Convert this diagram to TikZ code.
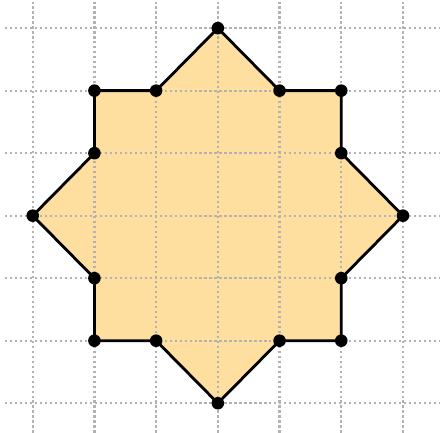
\documentclass[tikz,border=0pt]{standalone}
\usepackage{tikz}

\definecolor{starfill}{RGB}{255,223,160}

\tikzset{
  gridline/.style={gray!60, line width=1pt, dash pattern=on 1pt off 1.3pt},
  outline/.style={line width=1.3pt, line join=round},
  vertex/.style={circle, fill=black, inner sep=0pt, minimum size=5.8pt}
}

\begin{document}
\begin{tikzpicture}[y=1.013cm]

  \useasboundingbox (-0.53,-0.47) rectangle (6.6,6.45);

  % Corners of the star, counterclockwise from the top
  \coordinate (p1)  at (3,6);
  \coordinate (p2)  at (2,5);
  \coordinate (p3)  at (1,5);
  \coordinate (p4)  at (1,4);
  \coordinate (p5)  at (0,3);
  \coordinate (p6)  at (1,2);
  \coordinate (p7)  at (1,1);
  \coordinate (p8)  at (2,1);
  \coordinate (p9)  at (3,0);
  \coordinate (p10) at (4,1);
  \coordinate (p11) at (5,1);
  \coordinate (p12) at (5,2);
  \coordinate (p13) at (6,3);
  \coordinate (p14) at (5,4);
  \coordinate (p15) at (5,5);
  \coordinate (p16) at (4,5);

  % Filled star
  \fill[starfill] (p1) -- (p2) -- (p3) -- (p4) -- (p5) -- (p6) -- (p7) -- (p8)
    -- (p9) -- (p10) -- (p11) -- (p12) -- (p13) -- (p14) -- (p15) -- (p16) -- cycle;

  % Dotted grid
  \foreach \x in {0,...,6}
    \draw[gridline] (\x,-0.47) -- (\x,6.42);
  \foreach \y in {0,...,6}
    \draw[gridline] (-0.45,\y) -- (6.6,\y);

  % Star outline
  \draw[outline] (p1) -- (p2) -- (p3) -- (p4) -- (p5) -- (p6) -- (p7) -- (p8)
    -- (p9) -- (p10) -- (p11) -- (p12) -- (p13) -- (p14) -- (p15) -- (p16) -- cycle;

  % Dots on the corners
  \foreach \i in {1,...,16}
    \node[vertex] (v\i) at (p\i) {};

\end{tikzpicture}
\end{document}
